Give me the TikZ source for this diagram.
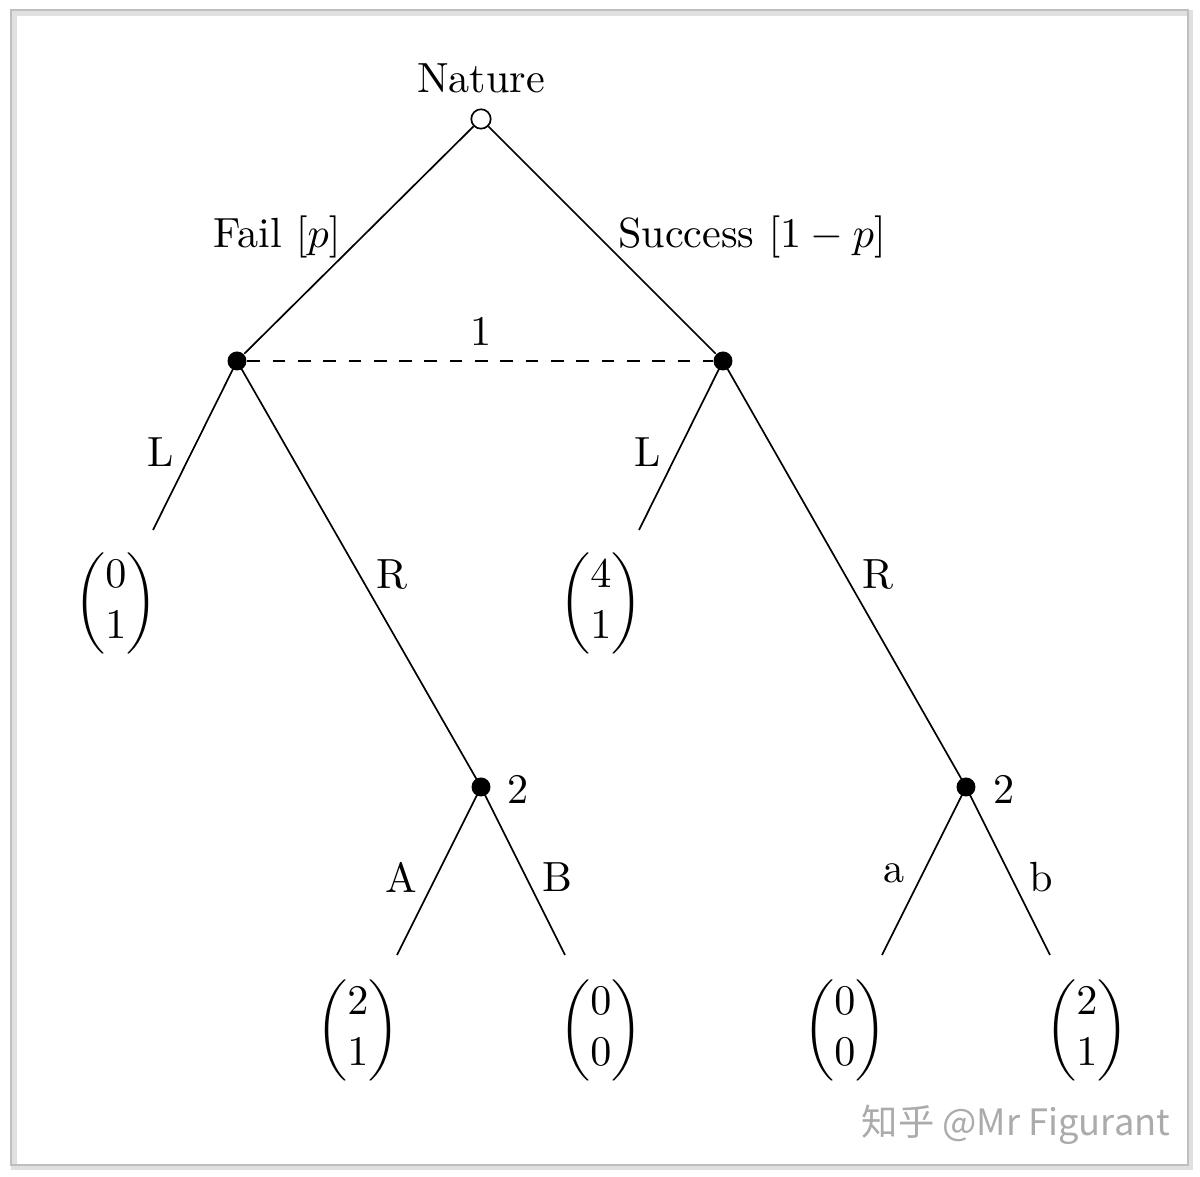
\documentclass[tikz,border=0pt]{standalone}
\usepackage{amsmath}
\usepackage{fontspec}
\newfontfamily\cjkwm{Noto Sans CJK SC}
\begin{document}
\begin{tikzpicture}[x=1cm/120,y=-1cm/120,
  branch/.style={line width=0.4pt},
  decision/.style={circle,fill=black,inner sep=0pt,minimum size=4.5pt},
  chance/.style={circle,draw=black,fill=white,inner sep=0pt,minimum size=4.6pt,line width=0.4pt},
  lbl/.style={inner sep=0pt},
  leaf/.style={inner sep=0pt}]
\useasboundingbox (0,0) rectangle (1200,1177);
\fill[white] (0,0) rectangle (1200,1177);
\draw[black!12,line width=1.2pt] (14,13) rectangle (1190,1167);
\draw[black!25,line width=0.5pt] (11,10) rectangle (1188,1165);
% nodes
\node[chance] (n0) at (481,119) {};
\node[lbl] (natl) at (481,78) {Nature};
\node[decision] (p1a) at (237,361) {};
\node[decision] (p1b) at (723,361) {};
\node[decision] (p2a) at (481,787) {};
\node[decision] (p2b) at (966,787) {};
\coordinate (eL1) at (153,530);
\coordinate (eL2) at (639,530);
\coordinate (eA) at (397,955);
\coordinate (eB) at (565,955);
\coordinate (ea) at (882,955);
\coordinate (eb) at (1050,955);
% branches
\draw[branch] (n0) -- (p1a);
\draw[branch] (n0) -- (p1b);
\draw[branch,dashed] (p1a) -- (p1b);
\draw[branch] (p1a.center) -- (eL1);
\draw[branch] (p1a.center) -- (p2a.center);
\draw[branch] (p1b.center) -- (eL2);
\draw[branch] (p1b.center) -- (p2b.center);
\draw[branch] (p2a.center) -- (eA);
\draw[branch] (p2a.center) -- (eB);
\draw[branch] (p2b.center) -- (ea);
\draw[branch] (p2b.center) -- (eb);
% labels
\node[lbl] (tFail) at (277,237) {Fail $[p]$};
\node[lbl] (tSucc) at (752,237) {Success $[1-p]$};
\node[lbl] (t1) at (481,331) {1};
\node[lbl] (tL1) at (161,452) {L};
\node[lbl] (tR1) at (392,575) {R};
\node[lbl] (tL2) at (648,452) {L};
\node[lbl] (tR2) at (878,575) {R};
\node[lbl] (t2a) at (518,789) {2};
\node[lbl] (t2b) at (1004,789) {2};
\node[lbl] (tA) at (401,877) {A};
\node[lbl] (tB) at (557,877) {B};
\node[lbl] (ta) at (894,873) {a};
\node[lbl] (tb) at (1041,877) {b};
% payoffs
\node[leaf] (v1) at (116,603) {$\begin{pmatrix}0\\1\end{pmatrix}$};
\node[leaf] (v2) at (601,603) {$\begin{pmatrix}4\\1\end{pmatrix}$};
\node[leaf] (v3) at (358,1030) {$\begin{pmatrix}2\\1\end{pmatrix}$};
\node[leaf] (v4) at (601,1030) {$\begin{pmatrix}0\\0\end{pmatrix}$};
\node[leaf] (v5) at (845,1030) {$\begin{pmatrix}0\\0\end{pmatrix}$};
\node[leaf] (v6) at (1087,1030) {$\begin{pmatrix}2\\1\end{pmatrix}$};
% watermark
\node[lbl,text=black!33,font=\cjkwm\fontsize{8.6pt}{10pt}\selectfont] (wm) at (1016,1125) {知乎 @Mr Figurant};
\end{tikzpicture}
\end{document}
